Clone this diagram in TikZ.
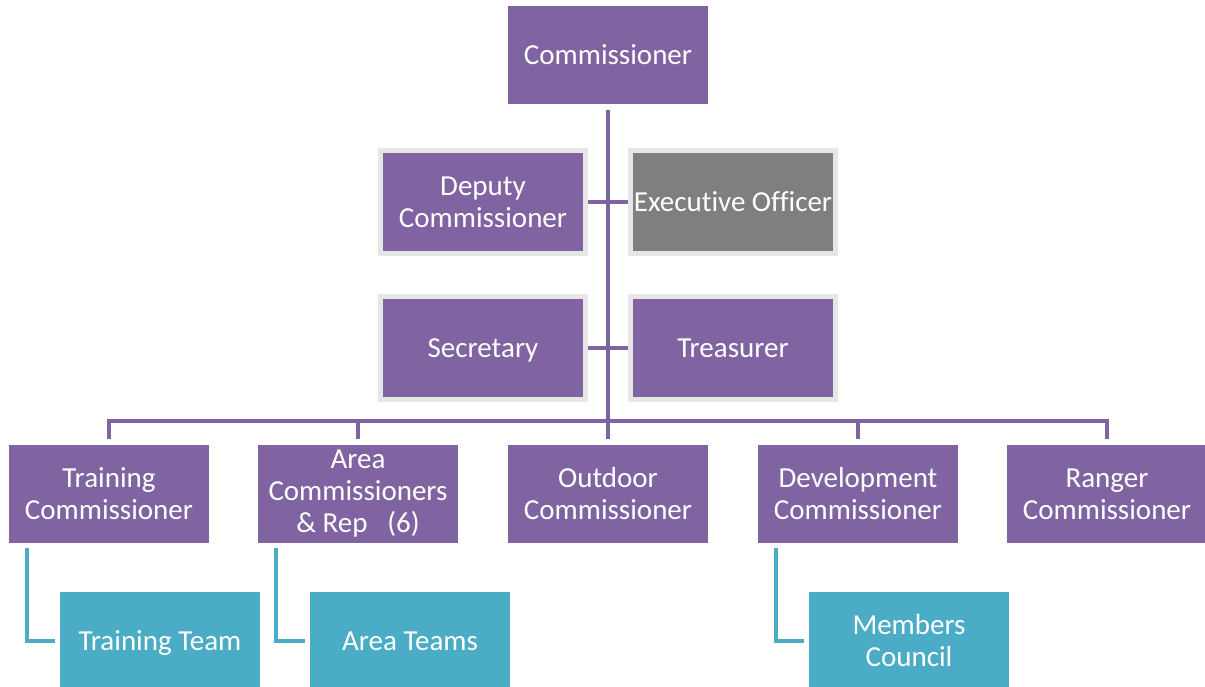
\documentclass[tikz,border=0pt]{standalone}
\usepackage{fontspec}
\setmainfont{Carlito}[Ligatures=NoCommon]
\usepackage{tikz}

\begin{document}
\begin{tikzpicture}[x=1pt, y=-1pt,
  font=\fontsize{29}{32}\selectfont,
  ruolo/.style={rectangle, fill=colViola, text=white, align=center,
    minimum width=200pt, minimum height=98pt, inner sep=0pt, outer sep=0pt},
  cornice/.style={ruolo, draw=colCornice, line width=5pt,
    minimum width=205pt, minimum height=103pt, outer sep=2.5pt},
  squadra/.style={ruolo, fill=colAzzurro},
  linea/.style={draw=colViola, line width=4.5pt},
  lineaSq/.style={draw=colAzzurro, line width=4.5pt, shorten <=5pt, shorten >=5pt}]

% Colori
\definecolor{colViola}{HTML}{8064A2}
\definecolor{colAzzurro}{HTML}{4BACC6}
\definecolor{colGrigio}{HTML}{7F7F7F}
\definecolor{colCornice}{HTML}{E7E6E6}

\useasboundingbox (0,0) rectangle (1205,687);

% Vertice
\node[ruolo] (comm) at (608,55) {Commissioner};

% Staff
\node[cornice] (vice) at (483,202) {Deputy\\Commissioner};
\node[cornice, fill=colGrigio] (exec) at (733,202) {Executive Officer};
\node[cornice, text depth=0pt] (segr) at (483,348) {Secretary};
\node[cornice] (tes) at (733,348) {Treasurer};

% Commissari
\node[ruolo] (tc) at (109,494) {Training\\Commissioner};
\node[ruolo] (ac) at (358,494) {Area\\Commissioners\\\& Rep \ \ (6)};
\node[ruolo] (oc) at (608,494) {Outdoor\\Commissioner};
\node[ruolo] (dc) at (858,494) {Development\\Commissioner};
\node[ruolo] (rc) at (1107,494) {Ranger\\Commissioner};

% Squadre
\node[squadra, text depth=0pt] (tt) at (160,641) {Training Team};
\node[squadra] (at) at (410,641) {Area Teams};
\node[squadra] (mc) at (909,641) {Members\\Council};

% Collegamenti
\coordinate (bus) at (608,421);
\draw[linea, shorten <=6pt] (comm.south) -- (bus);
\draw[linea] (vice.east) -- (exec.west);
\draw[linea] (segr.east) -- (tes.west);
\draw[linea, shorten <=6pt, shorten >=6pt] (tc.north) |- (bus) -| (rc.north);
\foreach \n in {ac,oc,dc}
  \draw[linea, shorten >=6pt] (\n.north |- bus) -- (\n.north);

\draw[lineaSq] ([xshift=18pt]tc.south west) |- (tt.west);
\draw[lineaSq] ([xshift=18pt]ac.south west) |- (at.west);
\draw[lineaSq] ([xshift=18pt]dc.south west) |- (mc.west);

\end{tikzpicture}
\end{document}
